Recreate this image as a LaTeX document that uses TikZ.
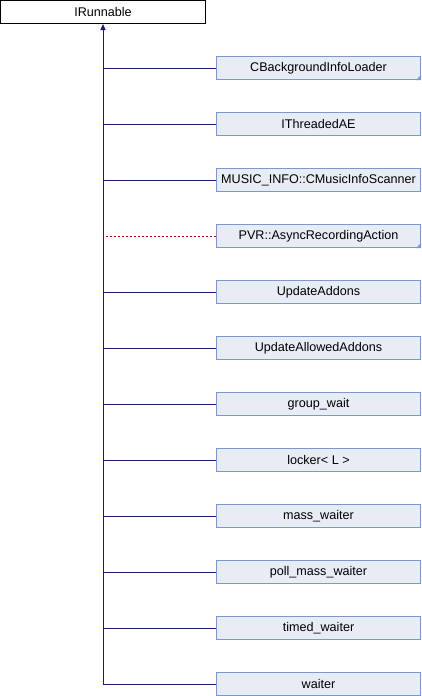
\documentclass[tikz,border=0pt]{standalone}
\usepackage{fontspec}
\setmainfont{Liberation Sans}
\usetikzlibrary{arrows.meta}
\definecolor{boxfill}{HTML}{E8ECF5}
\definecolor{boxdraw}{HTML}{7C98D0}
\definecolor{edgeblue}{HTML}{1A1A80}
\definecolor{edgered}{HTML}{B00000}
\begin{document}
\begin{tikzpicture}[x=1pt,y=-1pt,
  cls/.style={draw=boxdraw,fill=boxfill,line width=1pt,minimum width=204pt,minimum height=23pt,inner sep=0pt,font=\fontsize{12.6}{14}\selectfont,anchor=center},
  rootcls/.style={draw=black,fill=white,line width=1pt,minimum width=205pt,minimum height=23pt,inner sep=0pt,font=\fontsize{12.6}{14}\selectfont},
  pub/.style={draw=edgeblue,line width=1pt},
  priv/.style={draw=edgered,line width=1pt,dash pattern=on 2pt off 2pt},
  corner/.style={fill=boxdraw}]
\useasboundingbox (0,0) rectangle (422,696);
\node[rootcls] (root) at (103,12) {IRunnable};
\node[cls] (c1) at (318.5,68) {CBackgroundInfoLoader};
\node[cls] (c2) at (318.5,124) {IThreadedAE};
\node[cls] (c3) at (318.5,180) {MUSIC\_INFO::CMusicInfoScanner};
\node[cls] (c4) at (318.5,236) {PVR::AsyncRecordingAction};
\node[cls] (c5) at (318.5,292) {UpdateAddons};
\node[cls] (c6) at (318.5,348) {UpdateAllowedAddons};
\node[cls] (c7) at (318.5,404) {group\_wait};
\node[cls] (c8) at (318.5,460) {locker< L >};
\node[cls] (c9) at (318.5,516) {mass\_waiter};
\node[cls] (c10) at (318.5,572) {poll\_mass\_waiter};
\node[cls] (c11) at (318.5,628) {timed\_waiter};
\node[cls] (c12) at (318.5,684) {waiter};
\fill[corner] (c1.south east) -- ++(-5,0) -- ++(5,-5) -- cycle;
\fill[corner] (c4.south east) -- ++(-5,0) -- ++(5,-5) -- cycle;
\coordinate (trunkend) at (c12.west -| root.south);
\draw[pub,-{Triangle[length=6pt,width=5pt]}] (trunkend) -- (root.south);
\foreach \n in {c1,c2,c3,c5,c6,c7,c8,c9,c10,c11,c12}{
  \draw[pub] (\n.west) -- (\n.west -| root.south);
}
\draw[priv] (c4.west) -- (c4.west -| root.south);
\end{tikzpicture}
\end{document}
